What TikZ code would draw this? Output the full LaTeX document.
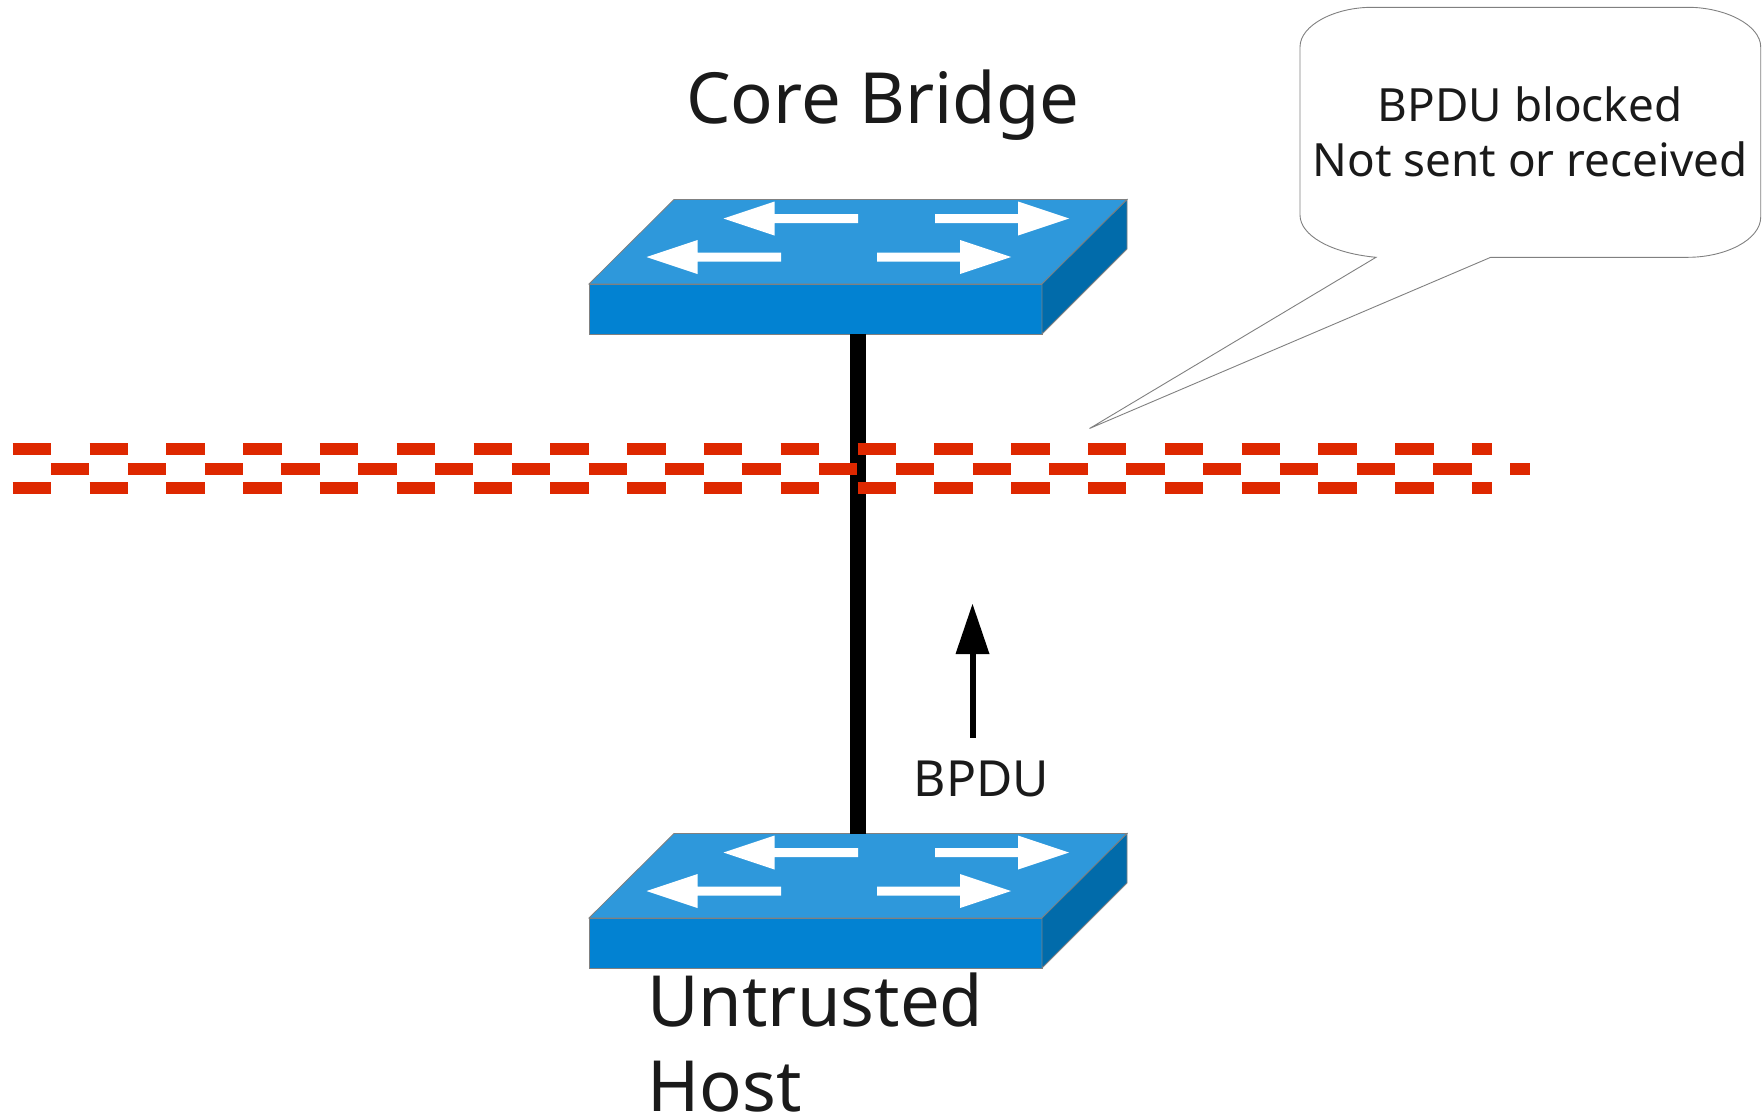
\documentclass[tikz,border=0pt]{standalone}
\usepackage{fontspec}
\setmainfont{Noto Sans}
\usetikzlibrary{calc}
\definecolor{bridgetop}{HTML}{2E98DB}
\definecolor{bridgefront}{HTML}{0282D2}
\definecolor{bridgeside}{HTML}{016BAA}
\definecolor{blockred}{HTML}{DE2800}
\definecolor{labeltext}{HTML}{1A1A1A}
\tikzset{
  bigtext/.style={text=labeltext, inner sep=0, font=\fontsize{70.6}{84.5}\selectfont},
  smalltext/.style={text=labeltext, inner sep=0, font=\fontsize{45.8}{55}\selectfont},
  blockline/.style={blockred, line width=12, dash pattern=on 38.4 off 38.4},
  pics/bridge/.style={code={
    \draw[gray, fill=bridgetop, line width=.8] (589,284)--(674,199.5)--(1127,199.5)--(1042,284)--cycle;
    \draw[gray, fill=bridgefront, line width=.8] (589,284) rectangle (1042,334);
    \draw[gray, fill=bridgeside, line width=.8] (1042,284)--(1127,199.5)--(1127,249)--(1042,334)--cycle;
    \fill[white] (723.5,218.5)--(774.5,201.5)--(774.5,214)--(858,214)--(858,223)--(774.5,223)--(774.5,235.5)--cycle;
    \fill[white] (1069,218.5)--(1018,201.5)--(1018,214)--(935,214)--(935,223)--(1018,223)--(1018,235.5)--cycle;
    \fill[white] (646.5,257)--(697.5,240)--(697.5,252.5)--(781,252.5)--(781,261.5)--(697.5,261.5)--(697.5,274)--cycle;
    \fill[white] (1011,257)--(960,240)--(960,252.5)--(877,252.5)--(877,261.5)--(960,261.5)--(960,274)--cycle;
    \coordinate (-up) at (858,199.5);
    \coordinate (-down) at (858,334);
  }}
}
\begin{document}
\begin{tikzpicture}[x=1pt,y=-1pt]
\useasboundingbox (0,0) rectangle (1763,1119);
\pic (core) at (0,0) {bridge};
\pic (host) at (0,634) {bridge};
\draw[black, line width=15.5] (core-down)--(host-up);
\draw[blockline] (12.7,449.3)--(1492,449.3);
\draw[blockline] (51,468.7)--(1530,468.7);
\draw[blockline] (12.7,487.7)--(1492,487.7);
\node[bigtext, anchor=base west] (corelabel) at (686,123.5) {Core Bridge};
\node[bigtext, anchor=north west, align=left] (hostlabel) at (647,973) {Untrusted\\Host};
\draw[gray, fill=white, line width=.9] (1376,257.3) .. controls (1330,253) and (1300,235) .. (1300,215)
  -- (1300,47) .. controls (1300,25) and (1335,7.3) .. (1372,7.3) -- (1688,7.3)
  .. controls (1725,7.3) and (1760.7,25) .. (1760.7,47) -- (1760.7,217)
  .. controls (1760.7,240) and (1725,257.3) .. (1688,257.3) -- (1490.7,257.3) -- (1089.5,428.5) -- cycle;
\node[smalltext, align=center] (blocked) at (1530,132) {BPDU blocked\\Not sent or received};
\node[smalltext, anchor=base west, font=\fontsize{49.8}{56}\selectfont] (bpdu) at (913.5,796) {BPDU};
\coordinate (flowstart) at (972.5,737.5);
\coordinate (flowneck) at (972.5,654);
\coordinate (flowtip) at (972.5,604);
\draw[black, line width=6] (flowstart)--(flowneck);
\fill[black] (flowtip)--($(flowneck)+(17,0)$)--($(flowneck)+(-17,0)$)--cycle;
\end{tikzpicture}
\end{document}
